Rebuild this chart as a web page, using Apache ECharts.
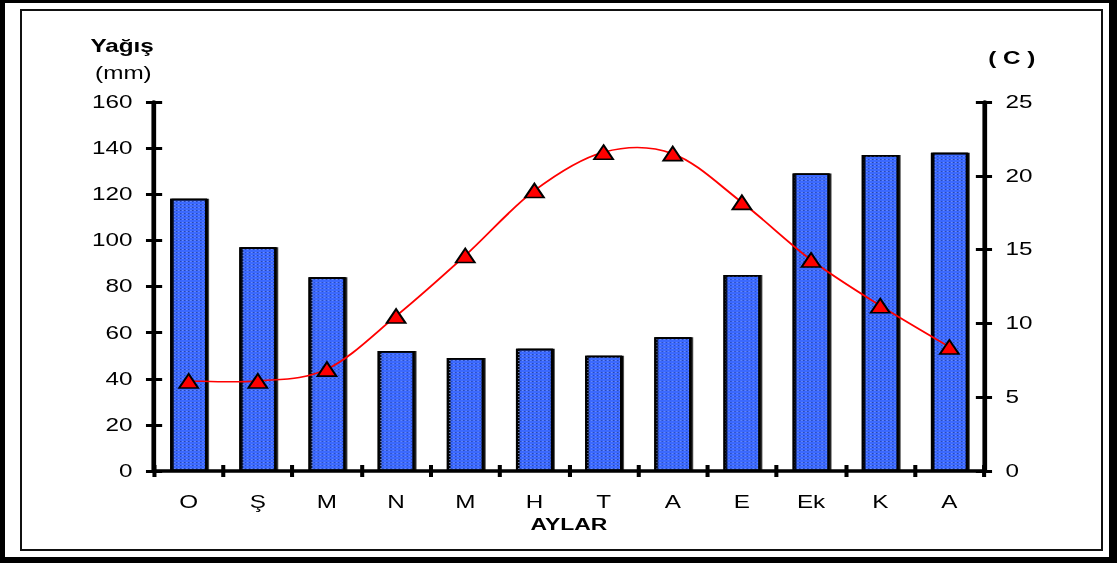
<!DOCTYPE html>
<html>
<head>
<meta charset="utf-8">
<title>Yağış ve Sıcaklık</title>
<script src="https://cdn.jsdelivr.net/npm/echarts@6/dist/echarts.min.js"></script>
<style>
  html, body { margin: 0; padding: 0; width: 1117px; height: 563px; overflow: hidden; background: #fff; }
  #frameOuter {
    position: absolute; left: 0; top: 0; width: 1117px; height: 563px; box-sizing: border-box;
    border-style: solid; border-color: #000; border-width: 3px 8px 6px 5px;
  }
  #frameInner {
    position: absolute; left: 20px; top: 9px; width: 1083px; height: 542px; box-sizing: border-box;
    border: 2px solid #111;
  }
  /* the chart is laid out narrow and widened, giving the broad lettering of the plot */
  #chart {
    position: absolute; left: 0; top: 0; width: 828px; height: 563px;
    transform-origin: 0 0; transform: scaleX(1.349);
  }
</style>
</head>
<body>
<div id="frameOuter"></div>
<div id="frameInner"></div>
<div id="chart"></div>
<script>
// Monthly climate values
const months = ['O', 'Ş', 'M', 'N', 'M', 'H', 'T', 'A', 'E', 'Ek', 'K', 'A'];
const rainfallMm = [118, 97, 84, 52, 49, 53, 50, 58, 85, 129, 137, 138];
const temperatureC = [6.1, 6.1, 6.9, 10.5, 14.6, 19.0, 21.6, 21.5, 18.2, 14.3, 11.2, 8.4];

// Axis scales
const rainAxis = { min: 0, max: 160, interval: 20 };
const tempAxis = { min: 0, max: 25, interval: 5 };

const FONT = 'Liberation Sans, Arial, sans-serif';
const chart = echarts.init(document.getElementById('chart'), null, { renderer: 'svg' });

const tickStyle = { color: '#000', width: 3 };
const axisText = { color: '#000', fontSize: 18, fontFamily: FONT };

function valueAxis(scale, position, inside, withLabels) {
  return {
    type: 'value', position: position,
    min: scale.min, max: scale.max, interval: scale.interval,
    axisLine: { show: withLabels, lineStyle: { color: '#000', width: 3.5 } },
    axisTick: { show: true, inside: inside, length: 6, lineStyle: tickStyle },
    axisLabel: { show: withLabels, margin: 16, ...axisText },
    splitLine: { show: false }
  };
}

function categoryAxis(inside, withLabels) {
  return {
    type: 'category', position: 'bottom', data: months,
    axisLine: { show: withLabels, lineStyle: { color: '#000', width: 3.5 } },
    axisTick: { show: true, inside: inside, length: 6, lineStyle: { color: '#000', width: 3 } },
    axisLabel: { show: withLabels, margin: 22, ...axisText },
    name: withLabels ? 'AYLAR' : '',
    nameLocation: 'middle', nameGap: 40,
    nameTextStyle: { color: '#000', fontSize: 17, fontWeight: 'bold', fontFamily: FONT },
    splitLine: { show: false }
  };
}

// Cardinal (Catmull-Rom) segment between month i and i+1 of the temperature curve
function renderTempSegment(params, api) {
  const i = params.dataIndex;
  const n = temperatureC.length;
  if (i >= n - 1) return null;
  const pt = (k) => api.coord([Math.max(0, Math.min(n - 1, k)), temperatureC[Math.max(0, Math.min(n - 1, k))]]);
  const p0 = pt(i - 1), p1 = pt(i), p2 = pt(i + 1), p3 = pt(i + 2);
  const t = 1 / 6;
  return {
    type: 'bezierCurve',
    shape: {
      x1: p1[0], y1: p1[1], x2: p2[0], y2: p2[1],
      cpx1: p1[0] + (p2[0] - p0[0]) * t, cpy1: p1[1] + (p2[1] - p0[1]) * t,
      cpx2: p2[0] - (p3[0] - p1[0]) * t, cpy2: p2[1] - (p3[1] - p1[1]) * t
    },
    style: { stroke: '#ff0000', lineWidth: 1.6, fill: null }
  };
}

chart.setOption({
  animation: false,
  backgroundColor: 'transparent',
  grid: { left: 114.2, right: 98.6, top: 102, bottom: 92, containLabel: false },
  xAxis: [categoryAxis(false, true), categoryAxis(true, false)],
  yAxis: [
    valueAxis(rainAxis, 'left', false, true),
    valueAxis(tempAxis, 'right', false, true),
    valueAxis(rainAxis, 'left', true, false),
    valueAxis(tempAxis, 'right', true, false)
  ],
  graphic: [
    { type: 'text', left: 67, top: 37, style: { text: 'Yağış', fill: '#000', font: 'bold 18px ' + FONT } },
    { type: 'text', left: 70.5, top: 64, style: { text: '(mm)', fill: '#000', font: '18px ' + FONT } },
    { type: 'text', left: 732.5, top: 49, style: { text: '( C )', fill: '#000', font: 'bold 18px ' + FONT } }
  ],
  series: [
    {
      name: 'Yağış', type: 'bar', xAxisIndex: 0, yAxisIndex: 0,
      data: rainfallMm, barWidth: 27.4,
      itemStyle: {
        color: '#3a69ff', borderColor: '#000', borderWidth: 1.5,
        shadowColor: 'rgba(0,0,0,0.22)', shadowOffsetX: 1.2, shadowOffsetY: 0, shadowBlur: 0,
        decal: { symbol: 'rect', symbolSize: 1, color: 'rgba(170,190,255,0.4)', dashArrayX: [1, 2], dashArrayY: [1, 2] }
      }
    },
    {
      name: 'Sıcaklık eğrisi', type: 'custom', xAxisIndex: 0, yAxisIndex: 1,
      data: temperatureC.map((v, i) => [i, v]),
      renderItem: renderTempSegment,
      z: 4, silent: true
    },
    {
      name: 'Sıcaklık', type: 'line', xAxisIndex: 0, yAxisIndex: 1,
      data: temperatureC,
      lineStyle: { opacity: 0 },
      symbol: 'triangle', symbolSize: [14, 14],
      itemStyle: { color: '#ff0000', borderColor: '#000', borderWidth: 1.6 },
      z: 5
    }
  ]
});
</script>
</body>
</html>
